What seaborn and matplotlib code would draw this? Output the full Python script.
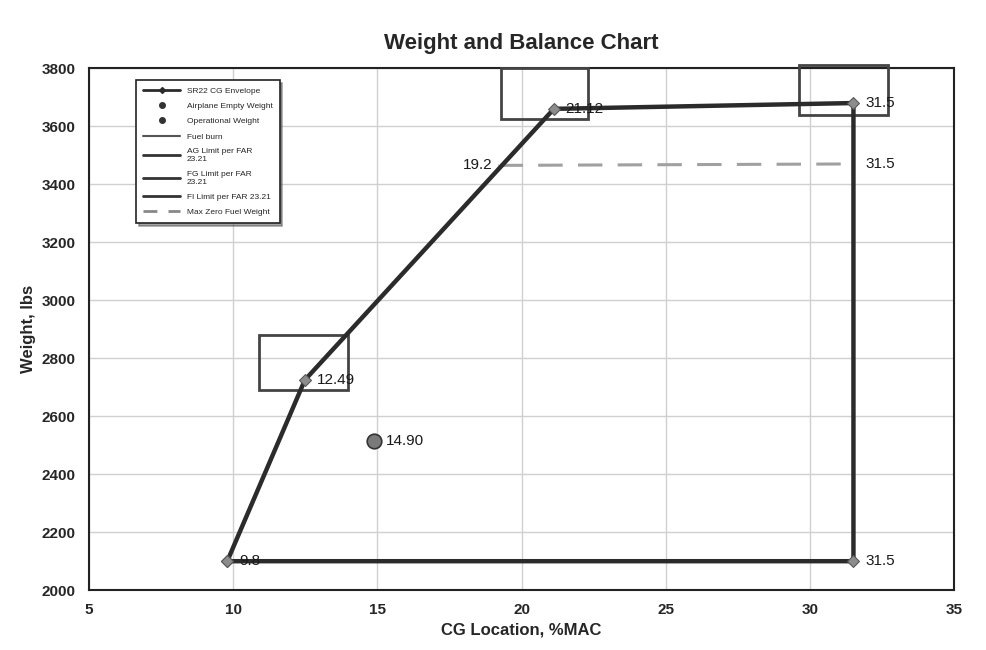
import pandas as pd
import numpy as np
import matplotlib.pyplot as plt
import seaborn as sns
from matplotlib.patches import Rectangle
from matplotlib.lines import Line2D

# envelope points (CG %MAC, weight lbs)
env_cg = [9.8, 12.49, 21.12, 31.5, 31.5, 9.8]
env_wt = [2100, 2725, 3660, 3680, 2100, 2100]
env_labels = ["9.8", "12.49", "21.12", "31.5", "31.5", ""]

# max zero fuel weight line
mzfw_cg = [19.2, 31.5]
mzfw_wt = [3465, 3470]
mzfw_labels = ["19.2", "31.5"]

# airplane empty weight
empty_cg = [14.90]
empty_wt = [2515]

# boxes drawn around points: (x0, y0, x1, y1)
boxes = [(10.9, 2690, 14.0, 2880), (19.3, 3625, 22.3, 3800), (29.6, 3640, 32.7, 3810)]

sns.set_theme(style="whitegrid")
plt.rcParams['font.family'] = ['Liberation Sans', 'DejaVu Sans']

fig, ax = plt.subplots(figsize=(9.86, 6.5), dpi=100)
fig.subplots_adjust(left=0.09, right=0.968, bottom=0.092, top=0.895)

env = pd.DataFrame({"cg": env_cg, "wt": env_wt})
sns.lineplot(data=env, x="cg", y="wt", sort=False, estimator=None, ax=ax, color="#2b2b2b",
             linewidth=3.2, marker="D", markersize=6, markerfacecolor="#8c8c8c",
             markeredgecolor="#555555", zorder=4)

mz = pd.DataFrame({"cg": mzfw_cg, "wt": mzfw_wt})
sns.lineplot(data=mz, x="cg", y="wt", estimator=None, ax=ax, color="#a0a0a0", linewidth=2.2,
             linestyle=(0, (8, 5)), marker="|", markersize=5, zorder=3)

emp = pd.DataFrame({"cg": empty_cg, "wt": empty_wt})
sns.scatterplot(data=emp, x="cg", y="wt", ax=ax, s=110, color="#7a7a7a",
                edgecolor="#333333", linewidth=1.2, zorder=5)

for x, y, t in zip(env_cg, env_wt, env_labels):
    if t:
        ax.text(x + 0.4, y, t, fontsize=11, va="center", ha="left", color="#1a1a1a", zorder=6)
for x, y, t in zip(mzfw_cg, mzfw_wt, mzfw_labels):
    if x < 25:
        ax.text(x - 0.2, y, t, fontsize=11, va="center", ha="right", color="#1a1a1a")
    else:
        ax.text(x + 0.4, y, t, fontsize=11, va="center", ha="left", color="#1a1a1a")
ax.text(empty_cg[0] + 0.4, empty_wt[0], "14.90", fontsize=11, va="center", ha="left", color="#1a1a1a")

for x0, y0, x1, y1 in boxes:
    ax.add_patch(Rectangle((x0, y0), x1 - x0, y1 - y0, fill=False,
                           edgecolor="#444444", linewidth=2, clip_on=False, zorder=3))

ax.set_xlim(5, 35)
ax.set_ylim(2000, 3800)
ax.set_xticks(range(5, 36, 5))
ax.set_yticks(range(2000, 3801, 200))
ax.tick_params(labelsize=11)
for lab in ax.get_xticklabels() + ax.get_yticklabels():
    lab.set_fontweight("bold")
ax.grid(color="#d0d0d0", linewidth=1)
for s in ax.spines.values():
    s.set_color("#222222")
    s.set_linewidth(1.5)

ax.set_title("Weight and Balance Chart", fontsize=16, fontweight="bold", pad=14)
ax.set_xlabel("CG Location, %MAC", fontsize=12, fontweight="bold")
ax.set_ylabel("Weight, lbs", fontsize=12, fontweight="bold")

handles = [
    Line2D([], [], color="#2b2b2b", lw=2, marker="D", markersize=3),
    Line2D([], [], color="none", marker="o", markerfacecolor="#333333", markeredgecolor="#333333", markersize=4),
    Line2D([], [], color="none", marker="o", markerfacecolor="#333333", markeredgecolor="#333333", markersize=4),
    Line2D([], [], color="#555555", lw=1.5),
    Line2D([], [], color="#333333", lw=2),
    Line2D([], [], color="#333333", lw=2),
    Line2D([], [], color="#333333", lw=2),
    Line2D([], [], color="#888888", lw=2, linestyle=(0, (5, 4))),
]
names = ["SR22 CG Envelope", "Airplane Empty Weight", "Operational Weight", "Fuel burn",
         "AG Limit per FAR\n23.21", "FG Limit per FAR\n23.21", "FI Limit per FAR 23.21",
         "Max Zero Fuel Weight"]
leg = ax.legend(handles, names, loc="upper left", bbox_to_anchor=(0.05, 0.985), fontsize=6,
                frameon=True, fancybox=False, shadow=True, edgecolor="#222222",
                handlelength=4.5, labelspacing=0.9, borderpad=0.8)
leg.get_frame().set_linewidth(1.2)

fig.savefig("out.png")
